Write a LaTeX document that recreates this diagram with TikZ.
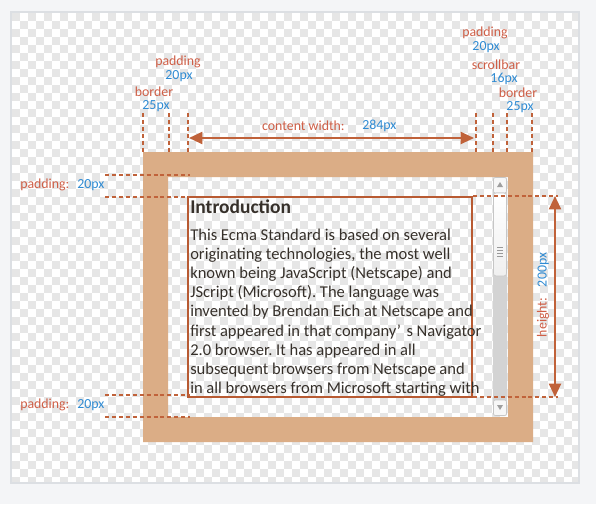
\documentclass[tikz,border=0pt]{standalone}
\usepackage{fontspec}
\setmainfont{Carlito}
\usetikzlibrary{arrows.meta,positioning}

\definecolor{pagebg}{HTML}{F4F5F7}
\definecolor{panelline}{HTML}{DCDFE3}
\definecolor{checker}{HTML}{E6E6E6}
\definecolor{bordertan}{HTML}{DBAD86}
\definecolor{dimline}{HTML}{C0623A}
\definecolor{boxline}{HTML}{B85A32}
\definecolor{lblred}{HTML}{CF5F47}
\definecolor{lblblue}{HTML}{2F8BD3}
\definecolor{bodytext}{HTML}{36302A}
\definecolor{track}{HTML}{D3D3D3}

\tikzset{
  dimext/.style={draw=dimline,line width=1.4pt,dash pattern=on 3pt off 2.2pt},
  dimarrow/.style={draw=dimline,line width=1.5pt,
    {Triangle[length=10pt,width=9pt]}-{Triangle[length=10pt,width=9pt]}},
  lbl/.style={text=lblred,inner sep=0pt,font=\fontsize{10.4}{12}\selectfont},
  num/.style={text=lblblue,inner sep=0pt,font=\fontsize{10.4}{12}\selectfont},
  bodyline/.style={anchor=base west,inner sep=0pt,text=bodytext,
    font=\fontsize{12.4}{14}\selectfont},
}
\frenchspacing

\begin{document}
\begin{tikzpicture}[x=0.75pt,y=-0.75pt]
\useasboundingbox (0,0) rectangle (596,504);
\fill[pagebg] (0,0) rectangle (596,504);

% panel with transparent-looking background
\fill[white] (11,12) rectangle (579,483);
\begin{scope}
\clip (12,13) rectangle (578,482);
\foreach \i in {0,16,...,576}
  \foreach \j in {0,16,...,480}{
    \fill[checker] (12+\i,13+\j) rectangle ++(8,8);
    \fill[checker] (20+\i,21+\j) rectangle ++(8,8);
  }
\end{scope}
\draw[panelline,line width=1.5pt] (11,12) rectangle (579,483);

% border
\fill[bordertan,even odd rule] (143,152) rectangle (533,442) (168,177) rectangle (508,417);

% scrollbar
\fill[track,rounded corners=1.5pt] (493,177) rectangle (507,416);
\draw[gray!45,fill=gray!6,rounded corners=1.5pt] (493.5,177.5) rectangle (506.5,193);
\fill[gray!75] (500,182) -- (503,187) -- (497,187) -- cycle;
\draw[gray!45,top color=white,bottom color=gray!12,rounded corners=2pt] (493.5,193) rectangle (506.5,276);
\foreach \y in {247,250,253,256}
  \draw[gray!80,line width=0.7pt] (497,\y) -- (503,\y);
\draw[gray!45,fill=gray!6,rounded corners=1.5pt] (493.5,400) rectangle (506.5,415.5);
\fill[gray!75] (500,410) -- (503,405) -- (497,405) -- cycle;

% content box
\node[draw=boxline,line width=1.5pt,minimum width=213pt,minimum height=150pt,inner sep=0pt]
  (content) at (330,296.5) {};

\node[bodyline,font=\fontsize{14.6}{16}\selectfont\bfseries] (intro) at (190,213) {Introduction};
\foreach \t [count=\k] in {
  {This Ecma Standard is based on several},
  {originating technologies, the most well},
  {known being JavaScript (Netscape) and},
  {JScript (Microsoft). The language was},
  {invented by Brendan Eich at Netscape and},
  {first appeared in that company’\,\,s Navigator},
  {2.0 browser. It has appeared in all},
  {subsequent browsers from Netscape and},
  {in all browsers from Microsoft starting with}}
  \node[bodyline] (line\k) at (190,{240.5+19.1*(\k-1)}) {\t};

% extension lines
\foreach \x in {143,169,188,476,493,507,532}
  \draw[dimext] (\x,113) -- (\x,152);
\foreach \y in {175,197,395,417}
  \draw[dimext] (105,\y) -- (190,\y);
\foreach \y in {196,397}
  \draw[dimext] (473,\y) -- (558,\y);

% content width
\coordinate (cw-l) at (189,138);
\coordinate (cw-r) at (474,138);
\draw[dimarrow] (cw-l) -- (cw-r);
\node[lbl,anchor=east] (cw-lbl) at (345,126) {content width:};
\node[num,anchor=west] (cw-num) at (362,126) {284px};

% height
\coordinate (h-t) at (555,196);
\coordinate (h-b) at (555,397);
\draw[dimarrow] (h-t) -- (h-b);
\node[rotate=90,inner sep=0pt] (h-lbl) at (543,295)
  {\textcolor{lblred}{\fontsize{10.4}{12}\selectfont height:}\hspace{8pt}\textcolor{lblblue}{\fontsize{10.4}{12}\selectfont 200px}};

% top labels, left
\node[lbl] (pad-l) at (178,62) {padding};
\node[num] (pad-l-n) at (179,76) {20px};
\node[lbl] (bor-l) at (154,92) {border};
\node[num] (bor-l-n) at (156,106) {25px};

% top labels, right
\node[lbl] (pad-r) at (485,33) {padding};
\node[num] (pad-r-n) at (486,47) {20px};
\node[lbl] (scr-r) at (496,65) {scrollbar};
\node[num] (scr-r-n) at (504,79) {16px};
\node[lbl] (bor-r) at (518,93) {border};
\node[num] (bor-r-n) at (520,107) {25px};

% side labels
\node[lbl,anchor=west] (pad-t) at (20,185) {padding:};
\node[num,anchor=west] (pad-t-n) at (77,185) {20px};
\node[lbl,anchor=west] (pad-b) at (20,405) {padding:};
\node[num,anchor=west] (pad-b-n) at (77,405) {20px};
\end{tikzpicture}
\end{document}
